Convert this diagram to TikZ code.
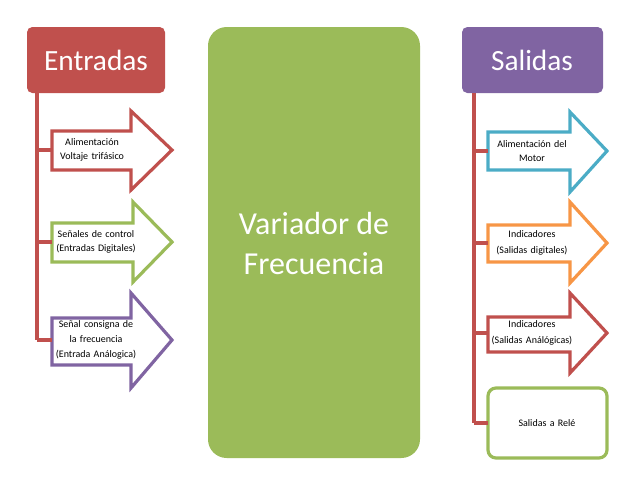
\documentclass[tikz,border=0pt]{standalone}
\usepackage{fontspec}
\setmainfont{Carlito}
\definecolor{cred}{HTML}{C0504D}
\definecolor{cgreen}{HTML}{9BBB59}
\definecolor{cpurple}{HTML}{8064A2}
\definecolor{cblue}{HTML}{4BACC6}
\definecolor{corange}{HTML}{F79646}
\begin{document}
\begin{tikzpicture}[x=0.75pt,y=-0.75pt,
  hdr/.style={text=white,font=\fontsize{22}{26}\selectfont},
  arr/.style={line width=2.4pt,fill=white,line join=miter,draw=#1},
  lbl/.style={font=\fontsize{7.5}{10}\selectfont,align=center,text width=65pt,text=black},
  conn/.style={draw=cred,line width=2.6pt}]
\useasboundingbox (0,0) rectangle (632,480);
% headers
\fill[cred,rounded corners=4pt] (27,27) rectangle (165,93);
\node[hdr] (ent) at (96,60) {Entradas};
\fill[cpurple,rounded corners=4pt] (462,27) rectangle (603,93);
\node[hdr] (sal) at (532,60) {Salidas};
% center
\fill[cgreen,rounded corners=14pt] (208,27) rectangle (420,458);
\node[font=\fontsize{24}{30}\selectfont,text=white,align=center] (var) at (314,243) {Variador de\\Frecuencia};
% left spine
\coordinate (ls) at (37,93);
\coordinate (l1) at (37,150);
\coordinate (l2) at (37,242);
\coordinate (l3) at (37,340);
\draw[conn] (ls) -- (l3);
% left arrows
\draw[arr=cred] (52,131) -- (131,131) -- (131,111) -- (172,150) -- (131,190) -- (131,170) -- (52,170) -- cycle;
\node[lbl] (a1) at (92,150) {Alimentación\\Voltaje trifásico};
\draw[arr=cgreen] (52,223) -- (133,223) -- (133,202) -- (172,242) -- (133,282) -- (133,262) -- (52,262) -- cycle;
\node[lbl] (a2) at (96,242) {Señales de control\\(Entradas Digitales)};
\draw[arr=cpurple] (52,318) -- (131,318) -- (131,293) -- (172,340) -- (131,388) -- (131,365) -- (52,365) -- cycle;
\node[lbl,font=\fontsize{7.5}{11}\selectfont] (a3) at (96,340) {Señal consigna de\\la frecuencia\\(Entrada Análogica)};
\draw[conn] (l1) -- (52,150);
\draw[conn] (l2) -- (52,242);
\draw[conn] (l3) -- (52,340);
% right spine
\coordinate (rs) at (474,93);
\coordinate (r1) at (474,151);
\coordinate (r2) at (474,243);
\coordinate (r3) at (474,333);
\coordinate (r4) at (474,423);
\draw[conn] (rs) -- (r4);
\draw[arr=cblue] (488,132) -- (570,132) -- (570,112) -- (607,151) -- (570,192) -- (570,170) -- (488,170) -- cycle;
\node[lbl] (b1) at (532,151) {Alimentación del\\Motor};
\draw[arr=corange] (488,225) -- (570,225) -- (570,202) -- (607,243) -- (570,283) -- (570,262) -- (488,262) -- cycle;
\node[lbl,font=\fontsize{7.5}{12}\selectfont] (b2) at (532,243) {Indicadores\\(Salidas digitales)};
\draw[arr=cred] (488,317) -- (570,317) -- (570,293) -- (607,333) -- (570,373) -- (570,352) -- (488,352) -- cycle;
\node[lbl,font=\fontsize{7.5}{12}\selectfont] (b3) at (532,333) {Indicadores\\(Salidas Análógicas)};
\draw[arr=cgreen,rounded corners=6pt] (488,388) rectangle (607,458);
\node[lbl] (b4) at (547,423) {Salidas a Relé};
\draw[conn] (r1) -- (488,151);
\draw[conn] (r2) -- (488,243);
\draw[conn] (r3) -- (488,333);
\draw[conn] (r4) -- (488,423);
\end{tikzpicture}
\end{document}
